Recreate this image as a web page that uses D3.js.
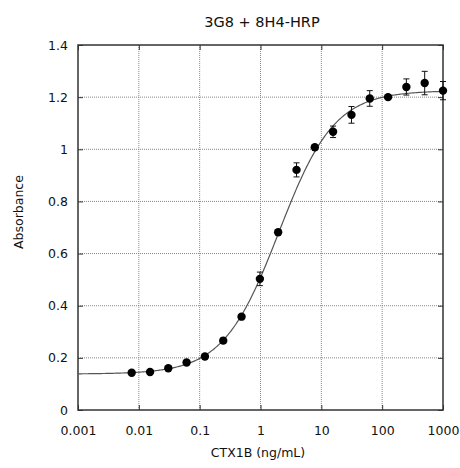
<!DOCTYPE html>
<html>
<head>
<meta charset="utf-8">
<script src="https://cdn.jsdelivr.net/npm/d3@7"></script>
<style>
  body { margin: 0; background: #fff; }
  text { font-family: "DejaVu Sans", sans-serif; fill: #111; }
</style>
</head>
<body>
<div id="chart"></div>
<script>
// Concentrations (ng/mL), 2-fold dilutions
const concentrations = [0.00763, 0.0153, 0.0305, 0.061, 0.122, 0.244, 0.488, 0.977, 1.95, 3.91, 7.81, 15.6, 31.3, 62.5, 125, 250, 500, 1000];
const absorbance = [0.143, 0.146, 0.160, 0.182, 0.205, 0.266, 0.358, 0.503, 0.682, 0.921, 1.008, 1.067, 1.132, 1.195, 1.200, 1.239, 1.254, 1.225];
const errors = [0.004, 0.004, 0.005, 0.006, 0.006, 0.01, 0.008, 0.026, 0.008, 0.027, 0.006, 0.022, 0.032, 0.03, 0.006, 0.031, 0.045, 0.035];

// 4-parameter logistic fit drawn through the points
const fitBottom = 0.138, fitTop = 1.225, fitEC50 = 2.0, fitHill = 0.95;

const xTicks = [0.001, 0.01, 0.1, 1, 10, 100, 1000];
const xTickLabels = ["0.001", "0.01", "0.1", "1", "10", "100", "1000"];
const yTicks = [0, 0.2, 0.4, 0.6, 0.8, 1, 1.2, 1.4];
const yTickLabels = ["0", "0.2", "0.4", "0.6", "0.8", "1", "1.2", "1.4"];

const width = 460, height = 468;
const margin = { top: 45, right: 17, bottom: 58, left: 78 };
const innerW = width - margin.left - margin.right;
const innerH = height - margin.top - margin.bottom;

const svg = d3.select("#chart").append("svg")
  .attr("width", width).attr("height", height);
const g = svg.append("g").attr("transform", `translate(${margin.left},${margin.top})`);

const x = d3.scaleLog().domain([0.001, 1000]).range([0, innerW]);
const y = d3.scaleLinear().domain([0, 1.4]).range([innerH, 0]);

// grid
g.append("g").selectAll("line").data(xTicks.slice(1, -1)).join("line")
  .attr("x1", d => x(d)).attr("x2", d => x(d)).attr("y1", 0).attr("y2", innerH)
  .attr("stroke", "#888").attr("stroke-width", 1).attr("stroke-dasharray", "1,1");
g.append("g").selectAll("line").data(yTicks.slice(1, -1)).join("line")
  .attr("y1", d => y(d)).attr("y2", d => y(d)).attr("x1", 0).attr("x2", innerW)
  .attr("stroke", "#888").attr("stroke-width", 1).attr("stroke-dasharray", "1,1");

// axes
g.append("g").attr("transform", `translate(0,${innerH})`)
  .call(d3.axisBottom(x).tickValues(xTicks).tickFormat((d, i) => xTickLabels[i]).tickSize(-5).tickPadding(16));
g.append("g")
  .call(d3.axisLeft(y).tickValues(yTicks).tickFormat((d, i) => yTickLabels[i]).tickSize(-5).tickPadding(10));
g.append("g").attr("transform", `translate(${innerW},0)`)
  .call(d3.axisRight(y).tickValues(yTicks).tickFormat("").tickSize(-5));
g.append("g")
  .call(d3.axisTop(x).tickValues(xTicks).tickFormat("").tickSize(-5));
g.selectAll(".domain").remove();
g.selectAll(".tick line").attr("stroke", "#333");
g.selectAll(".tick text").style("font-size", "12.5px").style("font-family", "DejaVu Sans, sans-serif").attr("fill", "#111");

// frame
g.append("rect").attr("width", innerW).attr("height", innerH)
  .attr("fill", "none").attr("stroke", "#333").attr("stroke-width", 1.5);

// fitted curve
const curveX = d3.range(-3, 3.001, 0.02).map(e => Math.pow(10, e));
const fit = c => fitBottom + (fitTop - fitBottom) / (1 + Math.pow(fitEC50 / c, fitHill));
g.append("path").datum(curveX)
  .attr("d", d3.line().x(d => x(d)).y(d => y(fit(d))))
  .attr("fill", "none").attr("stroke", "#555").attr("stroke-width", 1.2);

// error bars
const pts = concentrations.map((c, i) => ({ c, a: absorbance[i], e: errors[i] }));
const eb = g.append("g").attr("stroke", "#111").attr("stroke-width", 1);
eb.selectAll(".v").data(pts).join("line")
  .attr("x1", d => x(d.c)).attr("x2", d => x(d.c))
  .attr("y1", d => y(d.a - d.e)).attr("y2", d => y(d.a + d.e));
eb.selectAll(".t").data(pts).join("line")
  .attr("x1", d => x(d.c) - 3).attr("x2", d => x(d.c) + 3)
  .attr("y1", d => y(d.a + d.e)).attr("y2", d => y(d.a + d.e));
eb.selectAll(".b").data(pts).join("line")
  .attr("x1", d => x(d.c) - 3).attr("x2", d => x(d.c) + 3)
  .attr("y1", d => y(d.a - d.e)).attr("y2", d => y(d.a - d.e));

// points
g.append("g").selectAll("circle").data(pts).join("circle")
  .attr("cx", d => x(d.c)).attr("cy", d => y(d.a)).attr("r", 4.2)
  .attr("fill", "#000");

// titles
svg.append("text").attr("x", 262).attr("y", 27).attr("text-anchor", "middle")
  .style("font-size", "14.5px").text("3G8 + 8H4-HRP");
svg.append("text").attr("x", 258).attr("y", 457).attr("text-anchor", "middle")
  .style("font-size", "12.5px").text("CTX1B (ng/mL)");
svg.append("text").attr("transform", "translate(23,212) rotate(-90)").attr("text-anchor", "middle")
  .style("font-size", "12.5px").text("Absorbance");
</script>
</body>
</html>
